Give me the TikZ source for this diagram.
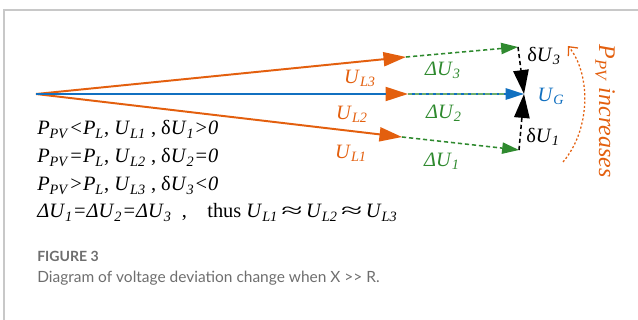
\documentclass[tikz,border=0pt]{standalone}
\usepackage{fontspec}
\setmainfont{Liberation Serif}
\newfontfamily\capfont{Lato}
\usepackage{xcolor}
\usepackage{graphicx}
\definecolor{pvorange}{HTML}{E35F0E}
\definecolor{devgreen}{HTML}{2F8A2F}
\definecolor{gridblue}{HTML}{1170C0}
\definecolor{framegray}{HTML}{C8C8C8}
\definecolor{capgray}{HTML}{6E6E6E}
\usetikzlibrary{positioning,arrows.meta,calc}
\newcommand\vsym[2]{\textit{#1}\textsubscript{\textit{#2}}}
\newcommand\approxeq{\,\scalebox{1.9}[1]{≈}\,}

\begin{document}
\begin{tikzpicture}[
  x=0.025cm, y=-0.025cm,
  font=\fontsize{14.5}{19}\selectfont,
  ul/.style={draw=pvorange, line width=1.4pt, -{Triangle[length=16pt, width=10pt]}},
  du/.style={draw=devgreen, line width=1.1pt, dash pattern=on 3pt off 2pt, -{Triangle[length=12pt, width=8pt]}},
  dv/.style={draw=black, line width=1.1pt, dash pattern=on 3pt off 2pt, -{Triangle[length=17pt, width=11pt]}},
  ulab/.style={text=pvorange, inner sep=1pt},
  dlab/.style={text=devgreen, inner sep=1pt},
  cond/.style={anchor=base west, inner sep=0pt},
]
  \useasboundingbox (0,0) rectangle (638,320);
  % card frame
  \draw[framegray, line width=1pt] (4,320) -- (4,10) -- (638,10);

  \coordinate (O)  at (36,94);
  \coordinate (L3) at (406,57);
  \coordinate (L2) at (408,94);
  \coordinate (L1) at (402,137);
  \coordinate (G3) at (518,47);
  \coordinate (G)  at (524,94);
  \coordinate (G1) at (519,150);

  % load voltages
  \draw[ul] (O) -- (L3);
  \draw[ul] (O) -- (L1);
  \draw[ul] (O) -- (L2);
  \draw[gridblue, line width=1.4pt] (O) -- ($(L2)+(-22,0)$);
  \draw[gridblue, line width=1.4pt, -{Triangle[length=13pt, width=8pt]}] (L2) -- (G);

  % line drops
  \draw[du] (L3) -- (G3);
  \draw[du] (L1) -- (G1);
  \draw[devgreen!70, line width=1pt, dash pattern=on 3pt off 2pt] (L2) -- ($(G)+(-20,0)$);

  % deviations
  \draw[dv] (G3) -- (G);
  \draw[dv] (G1) -- (G);

  \node[ulab] (ul3) at (360,78)  {\vsym{U}{L3}};
  \node[ulab] (ul2) at (352,114) {\vsym{U}{L2}};
  \node[ulab] (ul1) at (351,153) {\vsym{U}{L1}};
  \node[dlab] (du3) at (443,70)  {\textit{Δ}\vsym{U}{3}};
  \node[dlab] (du2) at (444,113) {\textit{Δ}\vsym{U}{2}};
  \node[dlab] (du1) at (442,161) {\textit{Δ}\vsym{U}{1}};
  \node[inner sep=1pt] (dv3) at (544,56)  {δ\vsym{U}{3}};
  \node[text=gridblue, inner sep=1pt] (ug) at (551,96) {\vsym{U}{G}};
  \node[inner sep=1pt] (dv1) at (543,137) {δ\vsym{U}{1}};

  % rising PV output
  \coordinate (arcS) at (563,162);
  \coordinate (arcE) at (568,46);
  \draw[pvorange, line width=0.9pt, dash pattern=on 1.5pt off 1.5pt, -{Straight Barb[length=5pt, width=9pt]}]
    (arcS) .. controls (592,128) and (590,72) .. (arcE);
  \node[text=pvorange, rotate=-90, inner sep=0pt, font=\fontsize{17}{20}\selectfont] (pvinc) at (605,111) {\vsym{P}{PV} \textit{increases}};

  \node[cond] (c1) at (37,135) {\vsym{P}{PV}\textit{<}\vsym{P}{L}, \vsym{U}{L1} , δ\vsym{U}{1}\textit{>0}};
  \node[cond] (c2) at (37,163) {\vsym{P}{PV}\textit{=}\vsym{P}{L}, \vsym{U}{L2} , δ\vsym{U}{2}\textit{=0}};
  \node[cond] (c3) at (37,191) {\vsym{P}{PV}\textit{>}\vsym{P}{L}, \vsym{U}{L3} , δ\vsym{U}{3}\textit{<0}};
  \node[cond] (c4) at (37,218) {\textit{Δ}\vsym{U}{1}\textit{=Δ}\vsym{U}{2}\textit{=Δ}\vsym{U}{3}\hspace{0.5em},\hspace{1em}thus \vsym{U}{L1}\approxeq\vsym{U}{L2}\approxeq\vsym{U}{L3}};

  % caption
  \node[cond, text=capgray, font=\capfont\fontsize{10}{12}\selectfont\bfseries] (fig) at (37,262) {FIGURE 3};
  \node[cond, text=capgray, font=\capfont\fontsize{11}{14}\selectfont] (cap) at (37,283) {Diagram of voltage deviation change when X >> R.};
\end{tikzpicture}
\end{document}
